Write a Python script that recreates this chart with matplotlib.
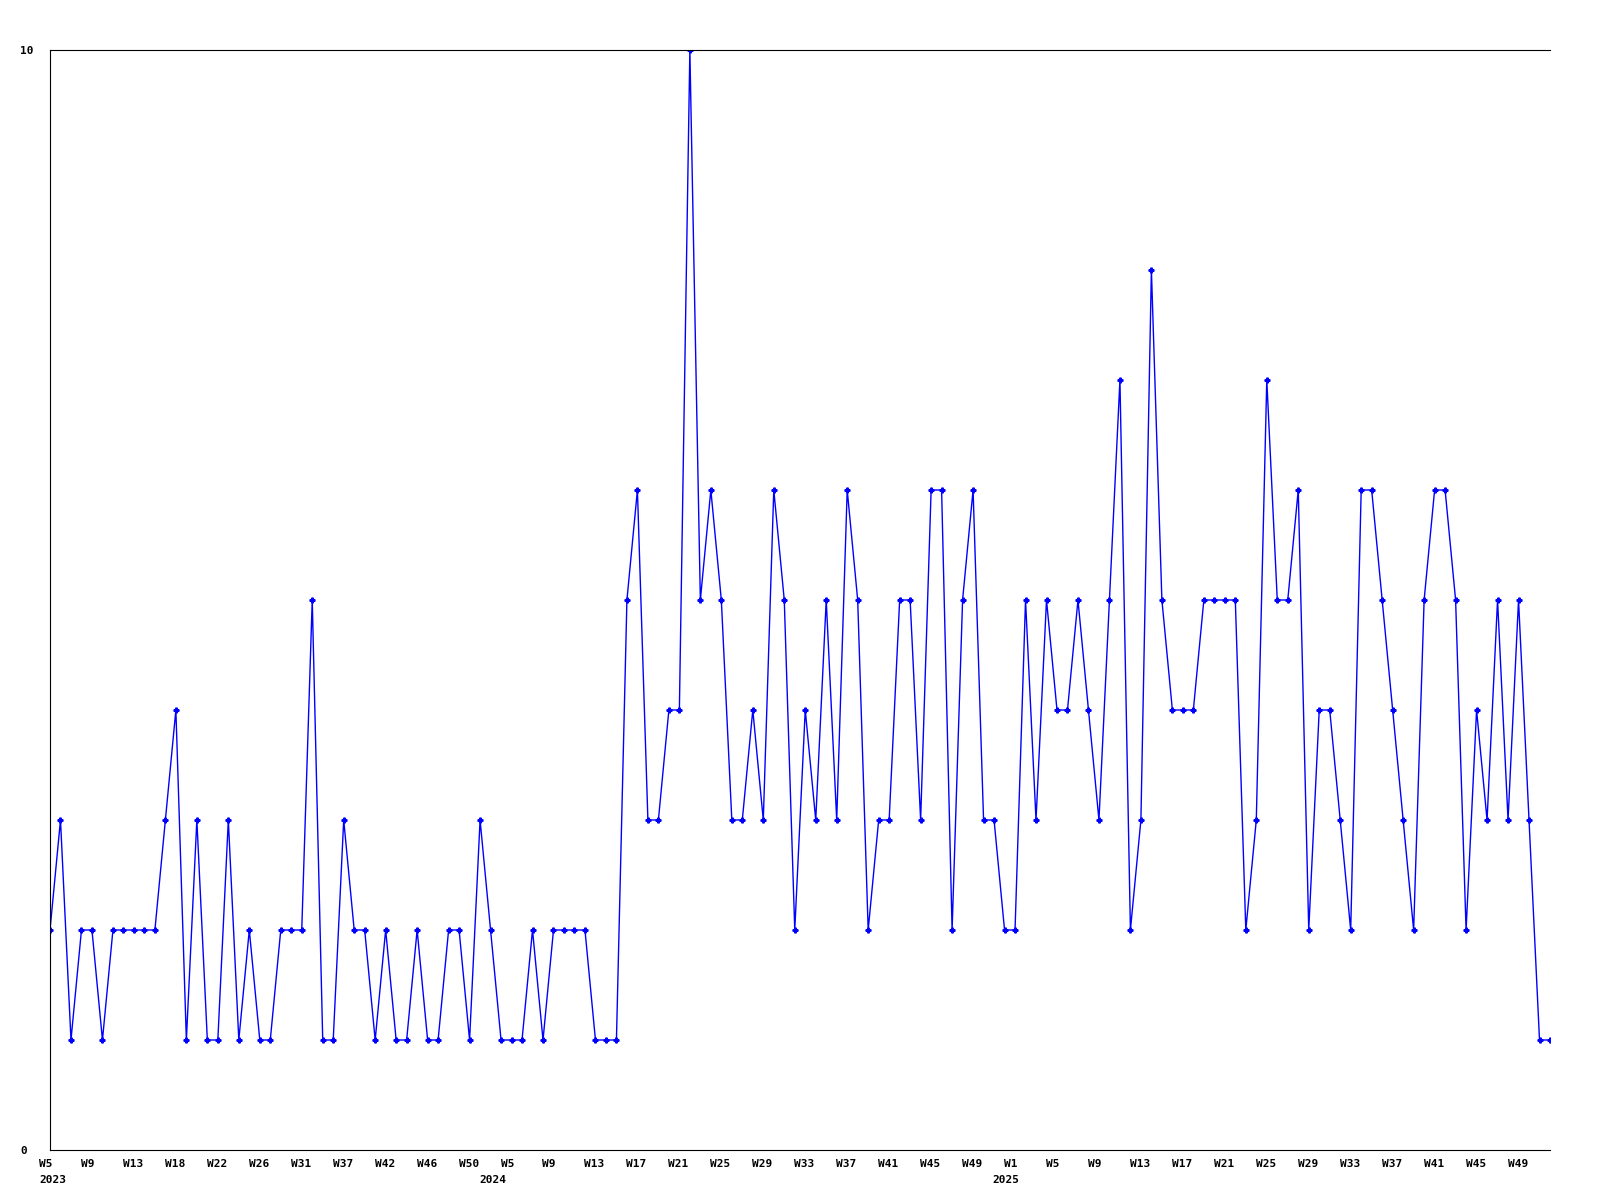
# weekly counts line chart, W5 2023 to end of 2025
import matplotlib.pyplot as plt
import matplotlib.transforms as mtransforms

# values per week
values_2023 = [2, 3, 1, 2, 2, 1, 2, 2, 2, 2, 2, 3, 4, 1, 3, 1, 1, 3, 1, 2, 1, 1, 2, 2, 2, 5, 1,
               1, 3, 2, 2, 1, 2, 1, 1, 2, 1, 1, 2, 2, 1, 3, 2, 1]
values_2024 = [1, 1, 2, 1, 2, 2, 2, 2, 1, 1, 1, 5,
               6, 3, 3, 4, 4, 10, 5, 6, 5, 3, 3, 4, 3, 6, 5, 2, 4, 3, 5, 3, 6, 5, 2, 3, 3, 5, 5, 3, 6,
               6, 2, 5, 6, 3, 3, 2]
values_2025 = [2, 5, 3, 5, 4, 4, 5, 4, 3, 5, 7, 2, 3, 8, 5, 4, 4, 4, 5, 5, 5, 5, 2,
               3, 7, 5, 5, 6, 2, 4, 4, 3, 2, 6, 6, 5, 4, 3, 2, 5, 6, 6, 5, 2, 4, 3, 5, 3, 5, 3, 1, 1]
values = values_2023 + values_2024 + values_2025

# x tick labels, one every 4 points
week_labels = ['W5', 'W9', 'W13', 'W18', 'W22', 'W26', 'W31', 'W37', 'W42', 'W46', 'W50',
               'W5', 'W9', 'W13', 'W17', 'W21', 'W25', 'W29', 'W33', 'W37', 'W41', 'W45', 'W49',
               'W1', 'W5', 'W9', 'W13', 'W17', 'W21', 'W25', 'W29', 'W33', 'W37', 'W41', 'W45', 'W49']
year_labels = ['2023', '2024', '2025']
year_tick_pos = [0, 42.0, 90.9]

x = list(range(len(values)))
week_tick_pos = list(range(0, 4 * len(week_labels), 4))

fig = plt.figure(figsize=(16, 12), dpi=100)
ax = fig.add_axes([50 / 1600, 50 / 1200, 1500 / 1600, 1100 / 1200])

ax.plot(x, values, color='#0000ff', linewidth=1, marker='P', markersize=3.5)

ax.set_xlim(0, len(values) - 1)
ax.set_ylim(0, 10)

# spines: left, top, bottom only
ax.spines['right'].set_visible(False)
for s in ['left', 'top', 'bottom']:
    ax.spines[s].set_linewidth(0.8)

font = {'family': 'DejaVu Sans Mono', 'weight': 'bold', 'size': 8}

ax.set_yticks([0, 10])
ax.set_yticklabels(['0', '10'], fontdict=font)
ax.tick_params(axis='y', length=0, pad=21.5)
for lab in ax.get_yticklabels():
    lab.set_horizontalalignment('left')

# week labels on major ticks, years on minor ticks one line lower
ax.xaxis.remove_overlapping_locs = False
ax.set_xticks(week_tick_pos)
ax.set_xticklabels(week_labels, fontdict=font)
ax.set_xticks(year_tick_pos, minor=True)
ax.set_xticklabels(year_labels, fontdict=font, minor=True)
ax.tick_params(axis='x', which='major', length=0, pad=6.7)
ax.tick_params(axis='x', which='minor', length=0, pad=17.7)
shift = mtransforms.ScaledTranslation(-11 / 100, 0, fig.dpi_scale_trans)
for lab in ax.get_xticklabels(which='both'):
    lab.set_horizontalalignment('left')
    lab.set_transform(lab.get_transform() + shift)

plt.savefig('out.png', dpi=100)
